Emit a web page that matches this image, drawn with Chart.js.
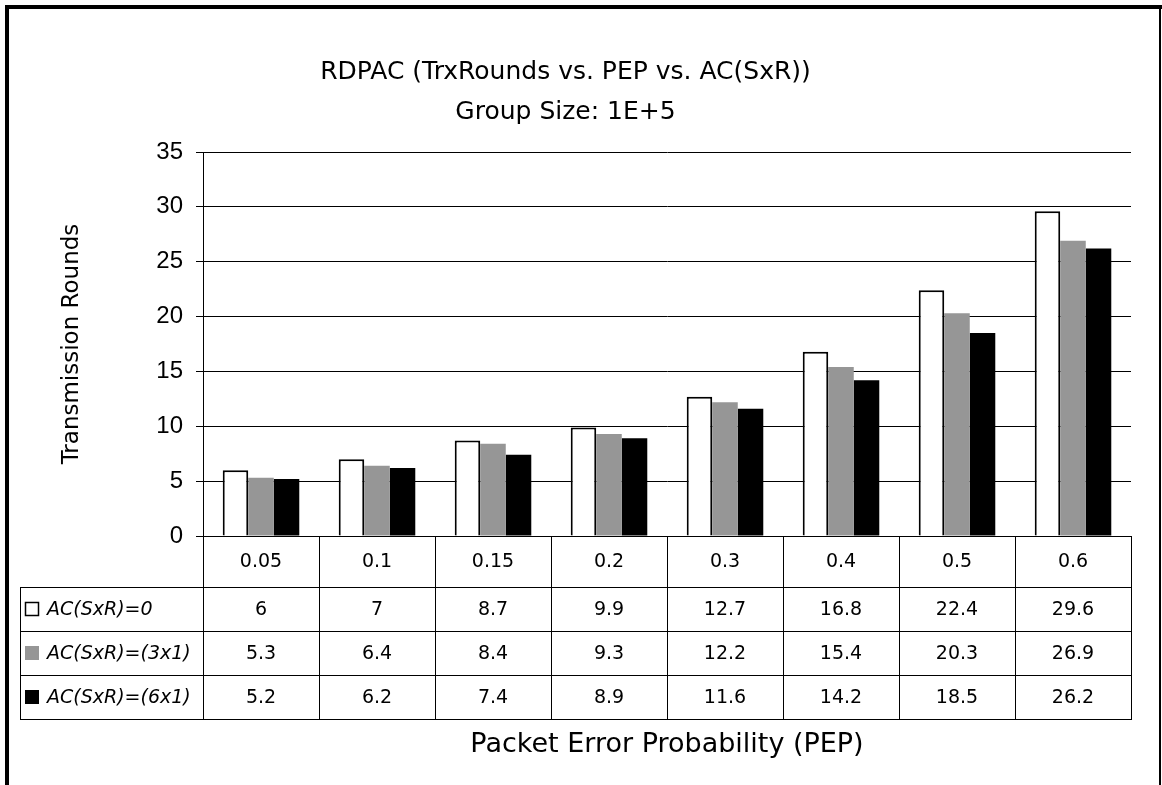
<!DOCTYPE html>
<html lang="en">

<head>
    <meta charset="UTF-8">
    <title>RDPAC Transmission Rounds</title>
    <script src="https://cdn.jsdelivr.net/npm/chart.js"></script>
    <style>
        html, body { margin: 0; padding: 0; background: #fff; }
    </style>
</head>

<body>
    <canvas id="roundsChart" width="1162" height="785"></canvas>

    <script>
        // PEP categories and the three admission-control series
        const pepLabels = ['0.05', '0.1', '0.15', '0.2', '0.3', '0.4', '0.5', '0.6'];
        const seriesNames = ['AC(SxR)=0', 'AC(SxR)=(3x1)', 'AC(SxR)=(6x1)'];
        const roundsAc0 = [6, 7, 8.7, 9.9, 12.7, 16.8, 22.4, 29.6];
        const roundsAc3x1 = [5.3, 6.4, 8.4, 9.3, 12.2, 15.4, 20.3, 26.9];
        const roundsAc6x1 = [5.2, 6.2, 7.4, 8.9, 11.6, 14.2, 18.5, 26.2];
        const seriesColors = ['#ffffff', '#969696', '#000000'];

        const yMin = 0;
        const yMax = 35;
        const yStep = 5;

        const textFont = 'DejaVu Sans';

        // white page with the heavy frame round it
        const framePlugin = {
            id: 'frame',
            beforeDraw(chart) {
                const { ctx, width, height } = chart;
                ctx.save();
                ctx.fillStyle = '#fff';
                ctx.fillRect(0, 0, width, height);
                ctx.fillStyle = '#000';
                ctx.fillRect(5, 5, width - 5, 4);
                ctx.fillRect(5, 5, 4, height - 5);
                ctx.fillRect(width - 3, 5, 2, height - 5);
                ctx.restore();
            }
        };

        // data table under the x axis: one column per PEP, one row per series
        const dataTablePlugin = {
            id: 'dataTable',
            afterDraw(chart) {
                const { ctx, chartArea, scales: { x } } = chart;
                const top = chartArea.bottom;
                const headerBottom = top + 51;
                const rowH = 44;
                const tableBottom = headerBottom + rowH * 3;
                const legendLeft = 20;
                const right = chartArea.right;
                const px = v => Math.round(v) + 0.5;

                ctx.save();
                ctx.strokeStyle = '#000';
                ctx.lineWidth = 1;
                ctx.beginPath();
                // column borders, taken from the category scale
                for (let i = 0; i <= pepLabels.length; i++) {
                    const cx = px(x.getPixelForValue(i - 0.5));
                    ctx.moveTo(cx, top);
                    ctx.lineTo(cx, tableBottom);
                }
                ctx.moveTo(px(legendLeft), headerBottom);
                ctx.lineTo(px(legendLeft), tableBottom);
                for (let r = 0; r <= 3; r++) {
                    const ry = px(headerBottom + r * rowH);
                    ctx.moveTo(legendLeft, ry);
                    ctx.lineTo(right + 1, ry);
                }
                ctx.stroke();

                ctx.textBaseline = 'middle';
                chart.data.datasets.forEach((ds, r) => {
                    const cy = headerBottom + r * rowH + rowH / 2;

                    // legend key
                    ctx.fillStyle = seriesColors[r];
                    ctx.fillRect(25, cy - 7, 14, 14);
                    if (r === 0) {
                        ctx.lineWidth = 1.5;
                        ctx.strokeRect(25.5, cy - 6.5, 13, 13);
                        ctx.lineWidth = 1;
                    }
                    ctx.fillStyle = '#000';
                    ctx.textAlign = 'left';
                    ctx.font = `italic 19px "${textFont}"`;
                    ctx.fillText(ds.label, 47, cy + 1);

                    // values
                    ctx.textAlign = 'center';
                    ctx.font = `19px "${textFont}"`;
                    ds.data.forEach((v, i) => {
                        ctx.fillText(String(v), x.getPixelForValue(i), cy + 1);
                    });
                });
                ctx.restore();
            }
        };

        new Chart(document.getElementById('roundsChart'), {
            type: 'bar',
            data: {
                labels: pepLabels,
                datasets: [
                    { label: seriesNames[0], data: roundsAc0, backgroundColor: seriesColors[0], borderColor: '#000', borderWidth: 2 },
                    { label: seriesNames[1], data: roundsAc3x1, backgroundColor: seriesColors[1], borderWidth: 0 },
                    { label: seriesNames[2], data: roundsAc6x1, backgroundColor: seriesColors[2], borderWidth: 0 }
                ]
            },
            options: {
                responsive: false,
                animation: false,
                layout: { padding: { left: 0, right: 31, top: 0, bottom: 0 } },
                datasets: {
                    bar: { categoryPercentage: 0.66, barPercentage: 1.0 }
                },
                plugins: {
                    legend: { display: false },
                    tooltip: { enabled: false },
                    title: {
                        display: true,
                        text: ['RDPAC (TrxRounds vs. PEP vs. AC(SxR))', 'Group Size: 1E+5'],
                        color: '#000',
                        font: { family: textFont, size: 25, weight: 'normal', lineHeight: 1.6 },
                        padding: { top: 52, bottom: 20 }
                    }
                },
                scales: {
                    x: {
                        afterFit(scale) { scale.height = 249; },
                        grid: { display: false, drawTicks: false },
                        border: { display: true, color: '#000', width: 1 },
                        ticks: {
                            color: '#000',
                            font: { family: textFont, size: 19 },
                            padding: 15,
                            maxRotation: 0
                        },
                        title: {
                            display: true,
                            text: 'Packet Error Probability (PEP)',
                            color: '#000',
                            font: { family: textFont, size: 27 },
                            padding: { top: 0, bottom: 24 }
                        }
                    },
                    y: {
                        min: yMin,
                        max: yMax,
                        afterFit(scale) { scale.width = 203; },
                        grid: { color: '#000', lineWidth: 1, tickLength: 7 },
                        border: { display: true, color: '#000', width: 1 },
                        ticks: {
                            stepSize: yStep,
                            color: '#000',
                            padding: 13,
                            font: { family: 'Liberation Sans', size: 24 }
                        },
                        title: {
                            display: true,
                            text: 'Transmission Rounds',
                            color: '#000',
                            font: { family: textFont, size: 23 },
                            padding: { top: 58, bottom: 0 }
                        }
                    }
                }
            },
            plugins: [framePlugin, dataTablePlugin]
        });
    </script>
</body>

</html>
